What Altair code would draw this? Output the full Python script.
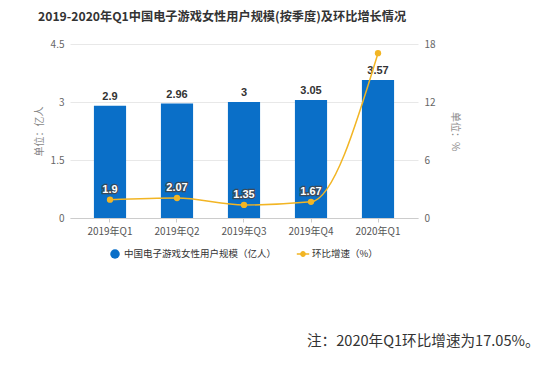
import altair as alt
import pandas as pd

quarters = ["2019年Q1", "2019年Q2", "2019年Q3", "2019年Q4", "2020年Q1"]
users = [2.9, 2.96, 3.0, 3.05, 3.57]
growth = [1.9, 2.07, 1.35, 1.67, 17.05]
growth_labels = ["1.9", "2.07", "1.35", "1.67", ""]
user_labels = ["2.9", "2.96", "3", "3.05", "3.57"]
left_ticks = [0, 1.5, 3, 4.5]
right_ticks = [0, 6, 12, 18]

BLUE = "#0a6fc8"
YELLOW = "#f2b524"
FONT = "Noto Sans CJK SC"

df = pd.DataFrame({
    "q": quarters, "users": users, "growth": growth,
    "glab": growth_labels, "ulab": user_labels,
    "s1": ["中国电子游戏女性用户规模（亿人）"] * 5,
    "s2": ["环比增速（%）"] * 5,
})

x = alt.X("q:N", sort=quarters, title=None,
          scale=alt.Scale(paddingInner=0.52, paddingOuter=0.357),
          axis=alt.Axis(labelAngle=0, labelColor="#555", labelFontSize=10, labelFont=FONT,
                        domainColor="#cccccc", tickColor="#cccccc", tickSize=4, labelPadding=4))

yl = alt.Y("users:Q", scale=alt.Scale(domain=[0, 4.5], nice=False),
           axis=alt.Axis(values=left_ticks, labelExpr="'' + datum.value", title="单位：亿人",
                         titleColor="#888", titleAngle=270,
                         titleFontWeight="normal", titleFontSize=10, titleFont=FONT, titlePadding=6,
                         labelColor="#666", labelFontSize=10, labelPadding=6, tickSize=0,
                         domain=False, gridColor="#e8e8e8"))

bars = alt.Chart(df).mark_bar(color=BLUE).encode(
    x=x, y=yl,
    color=alt.Color("s1:N", scale=alt.Scale(range=[BLUE]),
                    legend=alt.Legend(title=None, orient="none", legendX=40, legendY=205,
                                      symbolType="circle", symbolSize=90, labelFontSize=9.5,
                                      labelFont=FONT, labelColor="#333", symbolStrokeWidth=0)),
)
bar_text = alt.Chart(df).mark_text(dy=-9, fontSize=11, fontWeight="bold", color="#333").encode(
    x=x, y=yl, text="ulab:N")

left = alt.layer(bars, bar_text)

yr = alt.Y("growth:Q", scale=alt.Scale(domain=[0, 18], nice=False),
           axis=alt.Axis(orient="right", values=right_ticks, labelExpr="'' + datum.value",
                         title="单位：%", titleColor="#888", titleAngle=90,
                         titleFontWeight="normal", titleFontSize=10, titleFont=FONT, titlePadding=14,
                         labelColor="#666", labelFontSize=10, labelPadding=6, tickSize=0,
                         domain=False, grid=False))

line = alt.Chart(df).mark_line(interpolate="monotone", strokeWidth=1.5).encode(
    x=x, y=yr,
    stroke=alt.Stroke("s2:N", scale=alt.Scale(range=[YELLOW]),
                      legend=alt.Legend(title=None, orient="none", legendX=228, legendY=205,
                                        symbolType="M-1.6,0L1.6,0M0.55,0A0.55,0.55 0 1,1 -0.55,0A0.55,0.55 0 1,1 0.55,0",
                                        symbolFillColor=YELLOW, symbolSize=60, symbolStrokeWidth=1.5,
                                        labelFontSize=9.5, labelFont=FONT, labelColor="#333")),
)
pts = alt.Chart(df).mark_point(filled=True, size=40, color=YELLOW, opacity=1).encode(x=x, y=yr)
glab_bg = alt.Chart(df).mark_text(dy=-10, fontSize=11, fontWeight="bold", color="#334",
                                  stroke="#3a4a5a", strokeWidth=2.5).encode(
    x=x, y=yr, text="glab:N")
glab = alt.Chart(df).mark_text(dy=-10, fontSize=11, fontWeight="bold", color="white").encode(
    x=x, y=yr, text="glab:N")

right = alt.layer(line, pts, glab_bg, glab)

title_mark = alt.Chart(pd.DataFrame({"t": ["2019-2020年Q1中国电子游戏女性用户规模(按季度)及环比增长情况"]})).mark_text(
    align="left", baseline="middle", fontSize=12.2, fontWeight="bold", color="#333", font=FONT
).encode(x=alt.value(-32), y=alt.value(-27), text="t:N")

note_mark = alt.Chart(pd.DataFrame({"t": ["注：2020年Q1环比增速为17.05%。"]})).mark_text(
    align="left", baseline="middle", fontSize=14.6, color="#333", font=FONT
).encode(x=alt.value(237), y=alt.value(298), text="t:N")

chart = alt.layer(left, right, title_mark, note_mark).resolve_scale(
    y="independent", color="independent", stroke="independent"
).properties(
    width=348, height=174,
    padding={"left": 62, "top": 36, "right": 128, "bottom": 141},
    autosize=alt.AutoSizeParams(type="none"),
    background="white",
).configure_view(stroke=None).configure_axis(labelFont=FONT)

chart.save("out.html", embed_options={"renderer": "svg", "actions": False})
